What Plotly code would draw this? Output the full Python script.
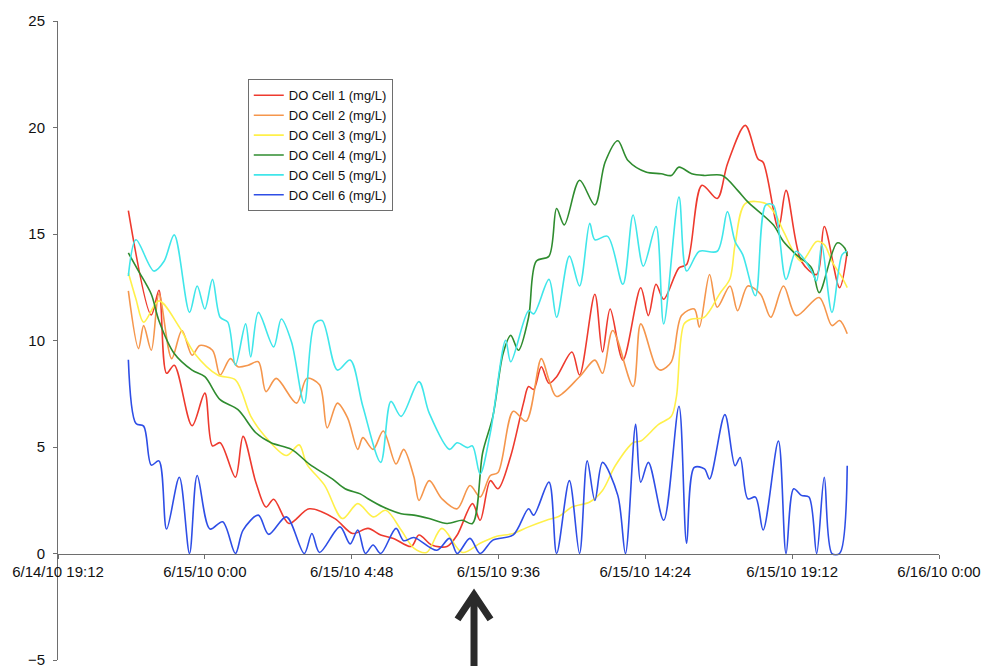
import plotly.graph_objects as go
from datetime import datetime

# ---------------- data ----------------
cell1_time = ["6/14/10 21:30", "6/14/10 22:15", "6/14/10 22:30", "6/14/10 22:45", "6/14/10 23:00", "6/14/10 23:35",
              "6/15/10 0:00", "6/15/10 0:15", "6/15/10 0:30", "6/15/10 1:00", "6/15/10 1:15", "6/15/10 1:40",
              "6/15/10 2:00", "6/15/10 2:15", "6/15/10 2:45", "6/15/10 3:25", "6/15/10 4:15", "6/15/10 4:50",
              "6/15/10 5:20", "6/15/10 5:45", "6/15/10 6:10", "6/15/10 6:45", "6/15/10 7:00", "6/15/10 7:25",
              "6/15/10 7:55", "6/15/10 8:15", "6/15/10 8:45", "6/15/10 9:00", "6/15/10 9:20", "6/15/10 9:35",
              "6/15/10 10:00", "6/15/10 10:25", "6/15/10 10:35", "6/15/10 10:45", "6/15/10 11:00", "6/15/10 11:15",
              "6/15/10 11:30", "6/15/10 12:00", "6/15/10 12:15", "6/15/10 12:45", "6/15/10 13:00", "6/15/10 13:15",
              "6/15/10 13:40", "6/15/10 14:15", "6/15/10 14:30", "6/15/10 14:45", "6/15/10 15:00", "6/15/10 15:30",
              "6/15/10 15:45", "6/15/10 16:15", "6/15/10 16:45", "6/15/10 17:05", "6/15/10 17:40", "6/15/10 18:05",
              "6/15/10 18:15", "6/15/10 18:45", "6/15/10 19:00", "6/15/10 19:30", "6/15/10 20:00", "6/15/10 20:15",
              "6/15/10 20:45", "6/15/10 21:00"]
cell1_do = [16.1, 11.2, 12.36, 8.46, 8.84, 6.0,
            7.53, 5.05, 5.2, 3.58, 5.5, 3.35,
            2.18, 2.55, 1.41, 2.1, 1.64, 0.94,
            1.18, 0.87, 0.71, 0.33, 0.87, 0.4,
            0.33, 0.87, 2.34, 1.56, 3.42, 3.04,
            4.58, 7.06, 7.84, 7.7, 8.77, 7.99,
            8.3, 9.46, 8.38, 12.17, 9.46, 11.48,
            9.08, 12.48, 11.17, 12.64, 11.94, 13.41,
            13.57, 17.29, 16.67, 18.29, 20.1, 18.52,
            18.37, 15.27, 17.05, 13.72, 13.1, 15.35,
            12.48, 14.19]

cell2_time = ["6/14/10 21:30", "6/14/10 21:50", "6/14/10 22:00", "6/14/10 22:15", "6/14/10 22:30", "6/14/10 22:55",
              "6/14/10 23:15", "6/14/10 23:35", "6/14/10 23:50", "6/15/10 0:15", "6/15/10 0:30", "6/15/10 0:50",
              "6/15/10 1:05", "6/15/10 1:25", "6/15/10 1:45", "6/15/10 2:00", "6/15/10 2:20", "6/15/10 3:00",
              "6/15/10 3:20", "6/15/10 3:45", "6/15/10 4:00", "6/15/10 4:20", "6/15/10 4:40", "6/15/10 5:00",
              "6/15/10 5:10", "6/15/10 5:30", "6/15/10 5:50", "6/15/10 6:15", "6/15/10 6:30", "6/15/10 6:50",
              "6/15/10 7:00", "6/15/10 7:20", "6/15/10 7:45", "6/15/10 8:15", "6/15/10 8:40", "6/15/10 9:00",
              "6/15/10 9:20", "6/15/10 9:35", "6/15/10 10:05", "6/15/10 10:30", "6/15/10 11:00", "6/15/10 11:15",
              "6/15/10 11:30", "6/15/10 12:15", "6/15/10 12:45", "6/15/10 13:00", "6/15/10 13:20", "6/15/10 14:00",
              "6/15/10 14:15", "6/15/10 14:45", "6/15/10 14:55", "6/15/10 15:15", "6/15/10 15:35", "6/15/10 16:00",
              "6/15/10 16:10", "6/15/10 16:30", "6/15/10 16:45", "6/15/10 17:10", "6/15/10 17:25", "6/15/10 17:45",
              "6/15/10 18:10", "6/15/10 18:30", "6/15/10 18:55", "6/15/10 19:20", "6/15/10 20:05", "6/15/10 20:30",
              "6/15/10 20:45", "6/15/10 21:00"]
cell2_do = [12.33, 9.62, 10.7, 9.54, 12.2, 9.15,
            10.47, 9.31, 9.77, 9.54, 8.38, 9.15,
            8.77, 8.84, 9.0, 7.6, 8.22, 7.06,
            8.22, 7.92, 5.9, 7.06, 6.37, 4.89,
            5.44, 4.89, 5.75, 4.2, 4.89, 3.6,
            2.49, 3.42, 2.57, 2.1, 3.19, 2.65,
            3.66, 3.8, 6.68, 6.21, 9.15, 8.15,
            7.37, 8.3, 9.08, 8.46, 10.47, 7.84,
            10.78, 8.77, 8.61, 9.0, 11.17, 11.48,
            10.63, 13.1, 11.56, 12.56, 11.4, 12.56,
            12.17, 11.09, 12.56, 11.17, 12.02, 10.7,
            10.94, 10.32]

cell3_time = ["6/14/10 21:30", "6/14/10 21:45", "6/14/10 22:00", "6/14/10 22:30", "6/14/10 23:10", "6/14/10 23:40",
              "6/15/10 0:25", "6/15/10 1:00", "6/15/10 1:30", "6/15/10 1:55", "6/15/10 2:40", "6/15/10 3:05",
              "6/15/10 3:20", "6/15/10 3:55", "6/15/10 4:30", "6/15/10 5:00", "6/15/10 5:30", "6/15/10 5:55",
              "6/15/10 6:25", "6/15/10 6:50", "6/15/10 7:15", "6/15/10 7:45", "6/15/10 8:25", "6/15/10 9:00",
              "6/15/10 9:30", "6/15/10 10:05", "6/15/10 10:35", "6/15/10 11:10", "6/15/10 11:35", "6/15/10 12:00",
              "6/15/10 12:35", "6/15/10 13:00", "6/15/10 13:25", "6/15/10 14:00", "6/15/10 14:15", "6/15/10 14:50",
              "6/15/10 15:15", "6/15/10 15:25", "6/15/10 15:40", "6/15/10 15:55", "6/15/10 16:20", "6/15/10 16:50",
              "6/15/10 17:10", "6/15/10 17:20", "6/15/10 17:40", "6/15/10 18:20", "6/15/10 18:40", "6/15/10 18:55",
              "6/15/10 19:30", "6/15/10 20:00", "6/15/10 20:15", "6/15/10 20:30", "6/15/10 20:50", "6/15/10 21:00"]
cell3_do = [13.18, 11.94, 10.86, 11.86, 10.63, 9.39,
            8.38, 8.15, 6.45, 5.59, 4.6, 5.1,
            4.2, 3.2, 1.64, 2.34, 1.72, 2.03,
            1.1, 0.25, 0.05, 1.18, 0.05, 0.48,
            0.79, 0.94, 1.25, 1.56, 1.75, 2.18,
            2.42, 2.96, 4.12, 5.2, 5.28, 6.06,
            6.44, 7.37, 10.78, 11.01, 11.1, 12.2,
            12.9, 14.5, 16.43, 16.43, 15.89, 15.12,
            13.72, 14.65, 14.5, 13.72, 12.95, 12.48]

cell4_time = ["6/14/10 21:30", "6/14/10 21:50", "6/14/10 22:15", "6/14/10 22:30", "6/14/10 23:00", "6/14/10 23:35",
              "6/15/10 0:00", "6/15/10 0:30", "6/15/10 1:05", "6/15/10 1:40", "6/15/10 2:10", "6/15/10 2:50",
              "6/15/10 3:25", "6/15/10 4:10", "6/15/10 4:35", "6/15/10 5:05", "6/15/10 5:20", "6/15/10 5:50",
              "6/15/10 6:25", "6/15/10 6:50", "6/15/10 7:20", "6/15/10 7:55", "6/15/10 8:25", "6/15/10 8:45",
              "6/15/10 9:05", "6/15/10 9:25", "6/15/10 9:45", "6/15/10 10:00", "6/15/10 10:15", "6/15/10 10:35",
              "6/15/10 10:50", "6/15/10 11:15", "6/15/10 11:30", "6/15/10 11:45", "6/15/10 12:15", "6/15/10 12:45",
              "6/15/10 13:05", "6/15/10 13:30", "6/15/10 13:50", "6/15/10 14:25", "6/15/10 14:55", "6/15/10 15:15",
              "6/15/10 15:30", "6/15/10 15:55", "6/15/10 16:20", "6/15/10 16:55", "6/15/10 17:25", "6/15/10 17:45",
              "6/15/10 18:35", "6/15/10 18:55", "6/15/10 19:20", "6/15/10 19:50", "6/15/10 20:05", "6/15/10 20:40",
              "6/15/10 20:55", "6/15/10 21:00"]
cell4_do = [14.11, 13.26, 12.17, 10.93, 9.39, 8.61,
            8.3, 7.22, 6.75, 5.67, 5.2, 4.89,
            4.2, 3.5, 3.04, 2.8, 2.57, 2.18,
            1.87, 1.8, 1.64, 1.41, 1.56, 1.41,
            4.74, 6.44, 9.39, 10.24, 9.54, 11.09,
            13.72, 13.96, 16.2, 15.43, 17.52, 16.36,
            18.37, 19.38, 18.45, 17.91, 17.83, 17.75,
            18.14, 17.83, 17.75, 17.75, 17.05, 16.51,
            15.43, 14.65, 14.03, 13.41, 12.25, 14.58,
            14.34, 13.96]

cell5_time = ["6/14/10 21:30", "6/14/10 21:45", "6/14/10 22:20", "6/14/10 22:40", "6/14/10 23:00", "6/14/10 23:30",
              "6/14/10 23:45", "6/15/10 0:00", "6/15/10 0:15", "6/15/10 0:30", "6/15/10 0:45", "6/15/10 1:00",
              "6/15/10 1:20", "6/15/10 1:30", "6/15/10 1:45", "6/15/10 2:15", "6/15/10 2:30", "6/15/10 2:50",
              "6/15/10 3:15", "6/15/10 3:35", "6/15/10 3:50", "6/15/10 4:20", "6/15/10 4:45", "6/15/10 5:10",
              "6/15/10 5:45", "6/15/10 6:05", "6/15/10 6:25", "6/15/10 7:00", "6/15/10 7:20", "6/15/10 8:00",
              "6/15/10 8:15", "6/15/10 8:35", "6/15/10 8:45", "6/15/10 9:00", "6/15/10 9:20", "6/15/10 9:50",
              "6/15/10 10:00", "6/15/10 10:35", "6/15/10 10:45", "6/15/10 11:15", "6/15/10 11:30", "6/15/10 11:55",
              "6/15/10 12:15", "6/15/10 12:35", "6/15/10 12:45", "6/15/10 13:10", "6/15/10 13:40", "6/15/10 14:00",
              "6/15/10 14:20", "6/15/10 14:45", "6/15/10 15:00", "6/15/10 15:30", "6/15/10 15:45", "6/15/10 16:10",
              "6/15/10 16:45", "6/15/10 17:05", "6/15/10 17:20", "6/15/10 17:35", "6/15/10 18:00", "6/15/10 18:20",
              "6/15/10 18:35", "6/15/10 19:00", "6/15/10 19:20", "6/15/10 19:50", "6/15/10 20:00", "6/15/10 20:10",
              "6/15/10 20:30", "6/15/10 20:50", "6/15/10 21:00"]
cell5_do = [13.03, 14.73, 13.26, 13.72, 14.96, 11.32,
            12.56, 11.48, 12.87, 11.09, 10.86, 8.84,
            10.78, 9.23, 11.32, 9.7, 11.01, 9.93,
            7.06, 10.78, 10.94, 8.61, 9.08, 6.9,
            4.28, 7.14, 6.44, 8.07, 6.6, 4.89,
            5.2, 4.97, 5.05, 3.73, 5.67, 10.01,
            9.0, 11.4, 11.25, 12.87, 11.09, 13.96,
            12.56, 15.5, 14.73, 14.89, 12.64, 15.89,
            13.49, 15.35, 10.78, 16.74, 13.26, 14.19,
            14.19, 16.05, 14.65, 14.03, 12.1, 16.36,
            16.36, 12.87, 14.19, 13.26, 12.8, 14.5,
            11.32, 14.03, 14.19]

cell6_time = ["6/14/10 21:30", "6/14/10 21:45", "6/14/10 22:00", "6/14/10 22:15", "6/14/10 22:30", "6/14/10 22:45",
              "6/14/10 23:10", "6/14/10 23:30", "6/14/10 23:45", "6/15/10 0:10", "6/15/10 0:35", "6/15/10 1:00",
              "6/15/10 1:15", "6/15/10 1:45", "6/15/10 2:05", "6/15/10 2:40", "6/15/10 3:15", "6/15/10 3:30",
              "6/15/10 3:45", "6/15/10 4:25", "6/15/10 4:45", "6/15/10 5:00", "6/15/10 5:15", "6/15/10 5:30",
              "6/15/10 5:45", "6/15/10 6:15", "6/15/10 6:30", "6/15/10 6:50", "6/15/10 7:35", "6/15/10 8:00",
              "6/15/10 8:15", "6/15/10 8:40", "6/15/10 9:00", "6/15/10 9:25", "6/15/10 10:05", "6/15/10 10:35",
              "6/15/10 10:45", "6/15/10 11:15", "6/15/10 11:30", "6/15/10 11:55", "6/15/10 12:15", "6/15/10 12:30",
              "6/15/10 12:45", "6/15/10 13:00", "6/15/10 13:30", "6/15/10 13:45", "6/15/10 14:05", "6/15/10 14:15",
              "6/15/10 14:30", "6/15/10 15:00", "6/15/10 15:30", "6/15/10 15:45", "6/15/10 16:00", "6/15/10 16:20",
              "6/15/10 16:30", "6/15/10 17:00", "6/15/10 17:20", "6/15/10 17:30", "6/15/10 17:45", "6/15/10 18:00",
              "6/15/10 18:15", "6/15/10 18:45", "6/15/10 19:00", "6/15/10 19:15", "6/15/10 19:30", "6/15/10 19:45",
              "6/15/10 20:00", "6/15/10 20:15", "6/15/10 20:30", "6/15/10 20:45", "6/15/10 21:00"]
cell6_do = [9.1, 6.1, 5.98, 4.15, 4.35, 1.15,
            3.58, 0.0, 3.66, 1.15, 1.49, 0.0,
            1.1, 1.8, 0.9, 1.72, 0.0, 0.94,
            0.05, 1.25, 0.45, 1.1, 0.0, 0.4,
            0.0, 1.18, 0.6, 0.75, 0.15, 0.71,
            0.0, 0.71, 0.0, 0.63, 0.87, 2.1,
            1.8, 3.35, 0.0, 3.42, 0.0, 4.35,
            2.49, 4.28, 2.73, 0.0, 6.06, 3.35,
            4.28, 1.56, 6.91, 0.48, 4.04, 3.97,
            3.5, 6.52, 4.12, 4.51, 2.57, 2.65,
            1.1, 5.28, 0.0, 3.04, 2.73, 2.65,
            0.0, 3.58, 0.0, 0.0, 4.12]

series_names = ["DO Cell 1 (mg/L)", "DO Cell 2 (mg/L)", "DO Cell 3 (mg/L)",
                "DO Cell 4 (mg/L)", "DO Cell 5 (mg/L)", "DO Cell 6 (mg/L)"]
tick_labels = ["6/14/10 19:12", "6/15/10 0:00", "6/15/10 4:48", "6/15/10 9:36",
               "6/15/10 14:24", "6/15/10 19:12", "6/16/10 0:00"]
y_ticks = [-5, 0, 5, 10, 15, 20, 25]

# ---------------- figure ----------------
FMT = "%m/%d/%y %H:%M"


def parse(lst):
    return [datetime.strptime(s, FMT) for s in lst]


colors = ["#ee3a2e", "#f5964c", "#fff04a", "#2f8c2f", "#40e6ea", "#2e4ee6"]
all_series = [(cell1_time, cell1_do), (cell2_time, cell2_do), (cell3_time, cell3_do),
              (cell4_time, cell4_do), (cell5_time, cell5_do), (cell6_time, cell6_do)]

fig = go.Figure()
for name, color, (t, v) in zip(series_names, colors, all_series):
    if len(t) != len(v):
        raise ValueError(f"{name}: {len(t)} times vs {len(v)} values")
    fig.add_trace(go.Scatter(x=parse(t), y=v, name=name, mode="lines",
                             line=dict(color=color, width=1.6, shape="spline", smoothing=0.9)))

font_family = "Liberation Sans, Arial, Helvetica, sans-serif"
tick_vals = parse(tick_labels)

# figure is a little larger than the window so the edge tick labels are kept;
# the page's default body margin is removed in post_script below
fig.update_layout(
    width=1000, height=680,
    margin=dict(l=57, r=61, t=14, b=20),
    paper_bgcolor="white", plot_bgcolor="white",
    font=dict(family=font_family, size=15, color="#111111"),
    showlegend=True,
    legend=dict(x=0.2154, y=0.9087, xanchor="left", yanchor="top",
                bgcolor="white", bordercolor="#6e6e6e", borderwidth=1,
                font=dict(family=font_family, size=13, color="#111111"),
                itemwidth=30),
    xaxis=dict(type="date", range=[tick_vals[0], tick_vals[-1]],
               tickmode="array", tickvals=tick_vals, ticktext=tick_labels,
               showgrid=False, zeroline=False, showline=True, linecolor="#6e6e6e", linewidth=1,
               ticks="outside", ticklen=4, tickcolor="#6e6e6e", ticklabelstandoff=0,
               anchor="free", position=5 / 30,
               tickfont=dict(family=font_family, size=15, color="#111111")),
    yaxis=dict(range=[-5, 25], tickmode="array", tickvals=y_ticks,
               showgrid=False, zeroline=False, showline=True, linecolor="#6e6e6e", linewidth=1,
               ticks="outside", ticklen=4, tickcolor="#6e6e6e", ticklabelstandoff=5,
               tickfont=dict(family=font_family, size=15, color="#111111")),
)

# black arrow pointing up at the bottom of the chart
fig.add_shape(type="path", xref="paper", yref="paper",
              path="M 0.4535,0.0635 L 0.4722,0.1022 L 0.4909,0.0635 M 0.4722,0.0960 L 0.4722,-0.0200",
              line=dict(color="#2a2a2a", width=7))

fig.write_html("out.html", config={"displayModeBar": False},
               post_script="document.body.style.margin='0';")
